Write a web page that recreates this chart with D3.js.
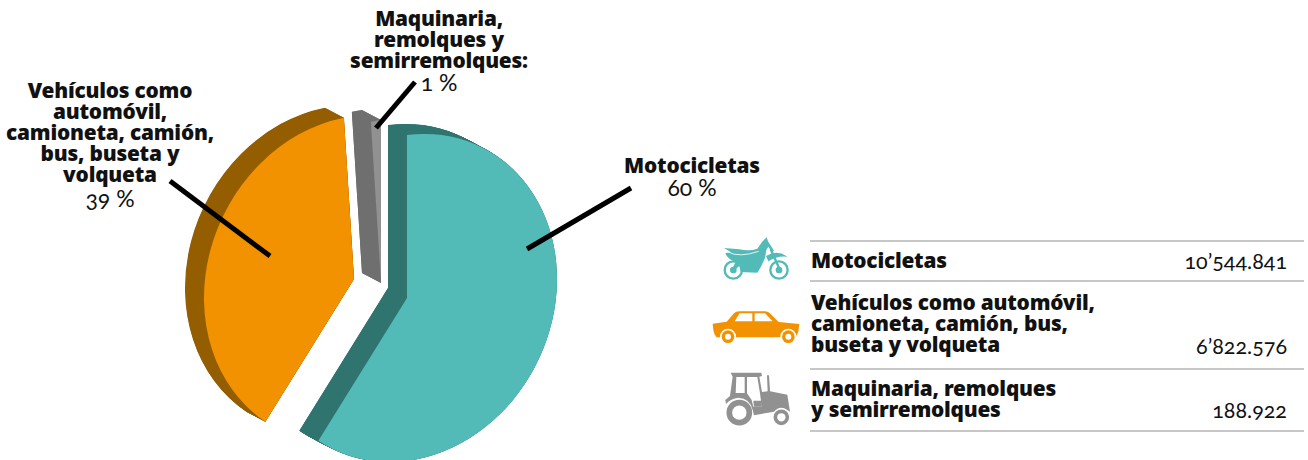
<!DOCTYPE html>
<html><head><meta charset="utf-8">
<script src="https://cdn.jsdelivr.net/npm/d3@7/dist/d3.min.js"></script>
<style>
html,body{margin:0;padding:0;background:#fff;}
svg{display:block;}
text{fill:#111;}
.b{font-family:"Noto Sans",sans-serif;font-weight:900;font-size:20.8px;letter-spacing:-0.2px;}
.r{font-family:Lato,sans-serif;font-weight:400;font-size:21.5px;font-variant-numeric:oldstyle-nums;}
.p{font-family:Lato,sans-serif;font-weight:400;font-size:23px;font-variant-numeric:oldstyle-nums;}
</style></head><body>
<svg id="c" width="1308" height="460"></svg>
<script>
const categories = ["Motocicletas","Vehículos","Maquinaria"];
const values = [10544841, 6822576, 188922];
const valueLabels = ["10’544.841","6’822.576","188.922"];
const percentLabels = ["60 %","39 %","1 %"];
const faceColors = ["#52bbb8","#f39200","#919191"];
const sideColors = ["#30746f","#945e00","#6f6f6f"];
const apexes = [[407,298],[354,279],[381,283]];
const calloutLines = [[[631,188],[527,249]],[[170,181],[270,256]],[[415,82],[376,128]]];
const calloutText = [
  {x:692, lines:["Motocicletas"], y:173, py:196},
  {x:110, lines:["Vehículos como","automóvil,","camioneta, camión,","bus, buseta y","volqueta"], y:98, py:207},
  {x:439, lines:["Maquinaria,","remolques y","semirremolques:"], y:26, py:91}
];
const legendLines = [["Motocicletas"],["Vehículos como automóvil,","camioneta, camión, bus,","buseta y volqueta"],["Maquinaria, remolques","y semirremolques"]];
const legendFirstBaseline = [268,310,396];
const legendValueBaseline = [269,354,418];
const ruleYs = [241,281,369,431];
const depth = [-19,-10];

const svg = d3.select("#c");
const pie = d3.pie().sort(null).startAngle(0).endAngle(2*Math.PI);
const arcs = pie(values);
const R = 1000;
const arc = d3.arc().innerRadius(0).outerRadius(R);
const sx = 0.150, skew = -0.019, sy = 0.163;
const m = (a,dx=0,dy=0)=>`matrix(${sx},${skew},0,${sy},${a[0]+dx},${a[1]+dy})`;
const rim = (ap,ang)=>{const x=Math.sin(ang)*R,y=-Math.cos(ang)*R;return [ap[0]+sx*x, ap[1]+skew*x+sy*y];};

arcs.forEach((d,i)=>{
  const g = svg.append("g");
  const ap = apexes[i];
  g.selectAll("path.s").data(d3.range(0,1.0001,1/40)).join("path").attr("class","s")
    .attr("d",arc(d)).attr("fill",sideColors[i])
    .attr("transform",t=>m(ap,depth[0]*t,depth[1]*t));
  [d.startAngle,d.endAngle].forEach(ang=>{
    const q=rim(ap,ang);
    g.append("path").attr("fill",sideColors[i])
      .attr("d",d3.line()([ap,q,[q[0]+depth[0],q[1]+depth[1]],[ap[0]+depth[0],ap[1]+depth[1]]]));
  });
  g.append("path").attr("d",arc(d)).attr("fill",faceColors[i]).attr("transform",m(ap));
});
const line = d3.line();
svg.selectAll("path.c").data(calloutLines).join("path").attr("class","c")
  .attr("d",line).attr("stroke","#000").attr("stroke-width",5).attr("fill","none");

calloutText.forEach((c,i)=>{
  c.lines.forEach((l,j)=>svg.append("text").attr("class","b").attr("text-anchor","middle")
    .attr("x",c.x).attr("y",c.y+j*21).text(l));
  svg.append("text").attr("class","p").attr("text-anchor","middle").attr("x",c.x).attr("y",c.py).text(percentLabels[i]);
});

svg.selectAll("line.rule").data(ruleYs).join("line").attr("class","rule")
  .attr("x1",810).attr("x2",1304).attr("y1",d=>d).attr("y2",d=>d)
  .attr("stroke","#b5b5b5").attr("stroke-width",1.6);
legendLines.forEach((ls,i)=>{
  ls.forEach((l,j)=>svg.append("text").attr("class","b").attr("x",811).attr("y",legendFirstBaseline[i]+j*21).text(l));
  svg.append("text").attr("class","r").attr("text-anchor","end").attr("x",1287).attr("y",legendValueBaseline[i]).text(valueLabels[i]);
});

// icons, drawn in 3x units around (700,230)
const icons = svg.append("g").attr("transform","translate(700,230) scale(0.3333)");
const moto = icons.append("g").attr("fill",faceColors[0]);
[[100,120],[237,120]].forEach(([x,y])=>{
  moto.append("circle").attr("cx",x).attr("cy",y).attr("r",26).attr("fill","none").attr("stroke",faceColors[0]).attr("stroke-width",7);
  moto.append("circle").attr("cx",x).attr("cy",y).attr("r",10);
});
moto.append("path").attr("d","M72,54 L118,58 Q150,64 172,56 L182,42 L186,36 L200,22 L204,34 L222,62 L216,66 L205,50 L199,60 L195,84 L182,112 L172,128 L122,126 L118,108 L100,124 L96,116 L106,98 L100,92 Q84,88 76,70 L92,66 Z");
moto.append("path").attr("d","M198,78 Q232,58 262,80 Q232,76 205,94 Z");
moto.append("path").attr("d","M212,58 L240,120").attr("stroke",faceColors[0]).attr("stroke-width",7);
moto.append("path").attr("d","M84,66 Q118,84 176,64").attr("stroke","#fff").attr("stroke-width",2.5).attr("fill","none");

const car = icons.append("g").attr("fill",faceColors[1]);
car.append("path").attr("d","M38,281 L80,275 L102,250 Q107,244 118,244 L196,244 Q205,245 212,252 L236,276 L298,282 L295,305 Q291,319 280,322 L50,322 Q42,315 40,300 Z");
car.append("path").attr("fill","#fff").attr("d","M104,274 L119,250 L157,250 L157,274 Z M164,250 L195,250 L218,274 L164,274 Z");
[84,265].forEach(x=>{
  car.append("circle").attr("cx",x).attr("cy",320).attr("r",24).attr("fill","#fff");
  car.append("circle").attr("cx",x).attr("cy",320).attr("r",19);
  car.append("circle").attr("cx",x).attr("cy",320).attr("r",9).attr("fill","#fff");
});

const trac = icons.append("g").attr("fill",faceColors[2]);
trac.append("path").attr("d","M92,428 L184,428 L186,438 L178,440 L186,486 L203,484 L201,436 L207,436 L210,484 L262,494 L270,545 L262,540 Q240,525 222,545 L162,556 L158,540 Q150,505 115,503 Q92,505 78,522 L76,510 L90,498 L98,440 Z");
trac.append("path").attr("fill","#fff").attr("d","M109,441 L134,441 L134,489 L107,489 Z M141,441 L172,441 L180,490 L185,530 L160,530 L155,510 L141,490 Z");
trac.append("path").attr("d","M160,512 L185,512 L185,530 L162,530 Z");
trac.append("circle").attr("cx",118).attr("cy",548).attr("r",30).attr("fill","none").attr("stroke",faceColors[2]).attr("stroke-width",17);
trac.append("circle").attr("cx",244).attr("cy",562).attr("r",18).attr("fill","none").attr("stroke",faceColors[2]).attr("stroke-width",11);
</script>
</body></html>
